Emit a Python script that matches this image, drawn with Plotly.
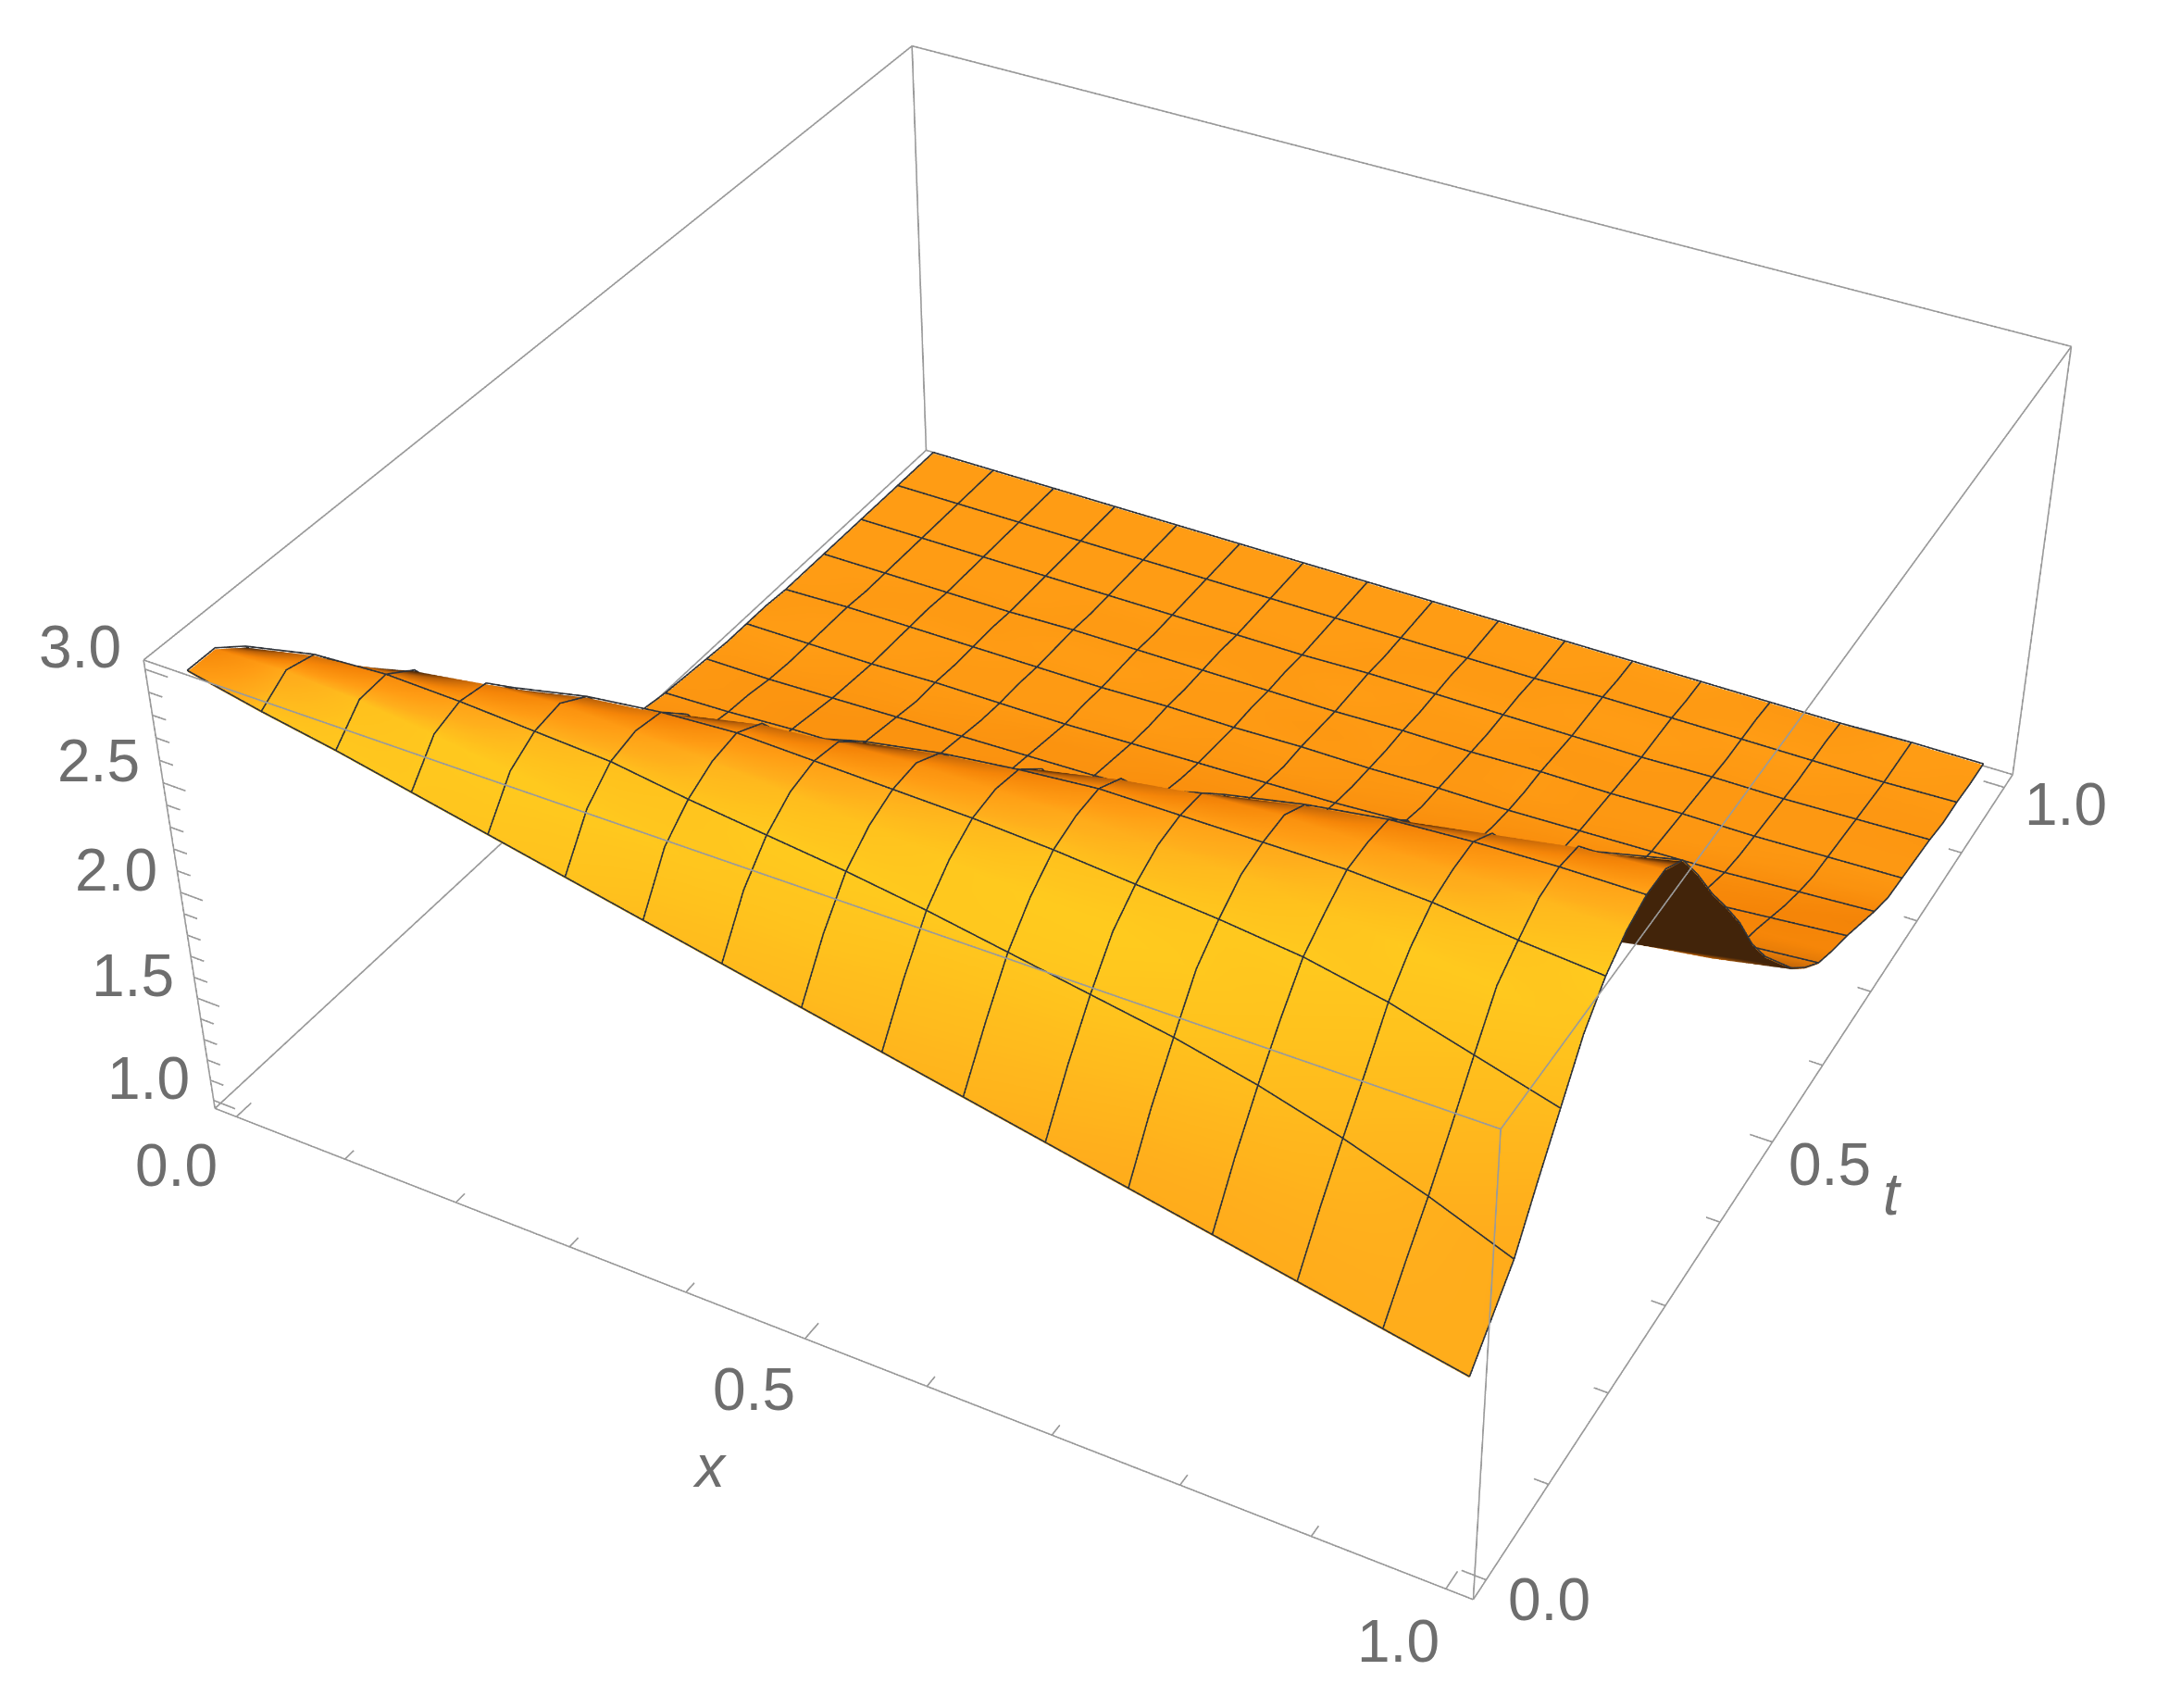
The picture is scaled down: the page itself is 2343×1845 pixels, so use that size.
import numpy as np
import plotly.graph_objects as go

x_values = [i/16 for i in range(17)]
t_values = [i/32 for i in range(33)]
tick_x = [i/10 for i in range(11)]
tick_z = [1+i/10 for i in range(21)]
z_labels = ['1.0','1.5','2.0','2.5','3.0']
z_label_values = [1,1.5,2,2.5,3]
# surface height u(x,t): one row per t value, one column per x value
Z_rows = [
[2.96,2.89,2.83,2.76,2.69,2.62,2.55,2.48,2.41,2.34,2.27,2.20,2.13,2.06,1.99,1.92,1.85],
[2.96,2.97,2.95,2.91,2.86,2.81,2.76,2.69,2.62,2.55,2.48,2.42,2.36,2.28,2.19,2.09,1.98],
[2.87,2.94,2.96,2.95,2.93,2.91,2.86,2.82,2.78,2.73,2.67,2.61,2.55,2.47,2.37,2.25,2.11],
[2.68,2.80,2.88,2.93,2.95,2.94,2.92,2.90,2.87,2.84,2.80,2.77,2.73,2.64,2.54,2.43,2.32],
[2.47,2.59,2.70,2.81,2.88,2.92,2.94,2.93,2.92,2.91,2.89,2.86,2.83,2.79,2.72,2.62,2.52],
[2.28,2.38,2.49,2.61,2.71,2.81,2.88,2.91,2.93,2.93,2.93,2.92,2.91,2.87,2.84,2.80,2.72],
[2.09,2.20,2.30,2.40,2.51,2.61,2.72,2.81,2.87,2.91,2.94,2.94,2.94,2.94,2.92,2.88,2.85],
[1.92,2.02,2.12,2.22,2.32,2.42,2.52,2.62,2.72,2.81,2.88,2.93,2.95,2.95,2.95,2.95,2.93],
[1.73,1.83,1.94,2.04,2.14,2.23,2.33,2.42,2.52,2.62,2.73,2.82,2.89,2.94,2.96,2.97,2.97],
[1.57,1.65,1.75,1.85,1.96,2.06,2.15,2.24,2.33,2.43,2.53,2.63,2.73,2.83,2.89,2.95,2.97],
[1.46,1.52,1.59,1.66,1.76,1.87,1.97,2.07,2.16,2.25,2.35,2.45,2.54,2.64,2.73,2.82,2.90],
[1.36,1.42,1.48,1.54,1.60,1.67,1.77,1.87,1.97,2.08,2.17,2.27,2.36,2.45,2.55,2.64,2.73],
[1.27,1.32,1.37,1.43,1.49,1.55,1.62,1.69,1.78,1.88,1.99,2.09,2.18,2.28,2.37,2.46,2.54],
[1.21,1.24,1.28,1.33,1.38,1.44,1.50,1.57,1.63,1.70,1.78,1.89,1.99,2.09,2.19,2.28,2.37],
[1.16,1.19,1.22,1.25,1.29,1.34,1.39,1.45,1.51,1.58,1.65,1.72,1.79,1.89,1.99,2.09,2.19],
[1.13,1.15,1.17,1.20,1.23,1.26,1.30,1.34,1.40,1.46,1.52,1.59,1.66,1.73,1.80,1.88,1.98],
[1.11,1.13,1.14,1.16,1.18,1.20,1.24,1.27,1.31,1.35,1.40,1.47,1.53,1.60,1.67,1.74,1.81],
[1.09,1.10,1.12,1.13,1.15,1.17,1.19,1.21,1.24,1.28,1.32,1.36,1.41,1.47,1.53,1.60,1.67],
[1.07,1.08,1.10,1.11,1.12,1.14,1.16,1.18,1.20,1.22,1.25,1.29,1.33,1.37,1.41,1.46,1.53],
[1.06,1.07,1.08,1.09,1.10,1.11,1.13,1.15,1.16,1.18,1.21,1.23,1.26,1.29,1.33,1.38,1.42],
[1.05,1.05,1.06,1.07,1.08,1.09,1.10,1.12,1.13,1.15,1.17,1.19,1.22,1.24,1.27,1.30,1.33],
[1.04,1.04,1.05,1.05,1.06,1.07,1.08,1.09,1.10,1.12,1.14,1.16,1.18,1.20,1.23,1.26,1.28],
[1.04,1.04,1.04,1.05,1.05,1.05,1.06,1.07,1.08,1.09,1.11,1.12,1.14,1.16,1.18,1.21,1.24],
[1.04,1.04,1.04,1.04,1.05,1.05,1.05,1.06,1.06,1.07,1.08,1.09,1.10,1.12,1.14,1.16,1.19],
[1.03,1.04,1.04,1.04,1.04,1.04,1.05,1.05,1.06,1.06,1.07,1.07,1.08,1.09,1.10,1.12,1.14],
[1.03,1.03,1.04,1.04,1.04,1.04,1.04,1.05,1.05,1.05,1.06,1.06,1.07,1.08,1.08,1.09,1.10],
[1.03,1.03,1.03,1.03,1.04,1.04,1.04,1.04,1.04,1.05,1.05,1.06,1.06,1.07,1.07,1.08,1.09],
[1.03,1.03,1.03,1.03,1.03,1.03,1.04,1.04,1.04,1.04,1.04,1.05,1.05,1.06,1.06,1.07,1.08],
[1.03,1.03,1.03,1.03,1.03,1.03,1.03,1.03,1.04,1.04,1.04,1.04,1.04,1.05,1.05,1.06,1.07],
[1.03,1.03,1.03,1.03,1.03,1.03,1.03,1.03,1.03,1.04,1.04,1.04,1.04,1.04,1.04,1.05,1.05],
[1.03,1.03,1.03,1.03,1.03,1.03,1.03,1.03,1.03,1.03,1.03,1.04,1.04,1.04,1.04,1.04,1.05],
[1.03,1.03,1.03,1.03,1.03,1.03,1.03,1.03,1.03,1.03,1.03,1.03,1.03,1.04,1.04,1.04,1.04],
[1.03,1.03,1.03,1.03,1.03,1.03,1.03,1.03,1.03,1.03,1.03,1.03,1.03,1.03,1.03,1.04,1.04],
]
Z = np.array(Z_rows)

box_x=[-0.02,1.02]; box_t=[-0.02,1.02]; box_z=[0.96,3.04]
zs=0.395/(box_z[1]-box_z[0])
zt,zx=np.gradient(Z,t_values,x_values)
n=np.stack([-zs*zx,-zs*zt,np.ones_like(Z)],-1); n/=np.linalg.norm(n,axis=-1,keepdims=True)
L=np.array([0.0,-0.6,0.8]); V=np.array([1.3,-2.4,2.0]); V=V/np.linalg.norm(V)
S=np.clip(n@L,0.02,1)
S=np.where(n[...,1]<-0.15,S-0.1*np.clip((2.6-Z)/0.8,0,1),S)
S[n@V<0]=0
scale=[[0,'#42240A'],[0.02,'#42240A'],[0.3,'#B85F08'],[0.6,'#F58508'],[0.8,'#FF9C14'],[0.9,'#FFAE1C'],[1,'#FFCB1E']]

fig=go.Figure()
fig.add_trace(go.Surface(x=x_values,y=t_values,z=Z,surfacecolor=S,cmin=0,cmax=1,colorscale=scale,showscale=False,hoverinfo='skip',
  lighting=dict(ambient=1,diffuse=0,specular=0,fresnel=0,roughness=1),
  contours=dict(x=dict(highlight=False),y=dict(highlight=False),z=dict(highlight=False))))
mx=[];my=[];mz=[]
lift=0.006
for j,xv in enumerate(x_values):
    mx+=[xv]*33+[None];my+=t_values+[None];mz+=list(Z[:,j]+lift)+[None]
for i in range(0,33,2):
    mx+=x_values+[None];my+=[t_values[i]]*17+[None];mz+=list(Z[i,:]+lift)+[None]
fig.add_trace(go.Scatter3d(x=mx,y=my,z=mz,mode='lines',line=dict(color='#30343a',width=3),hoverinfo='skip',showlegend=False))
ex=[];ey=[];ez=[]
a,b=box_x;c,d=box_t;e,f=box_z
for p,q in [((a,c,e),(b,c,e)),((b,c,e),(b,d,e)),((b,d,e),(a,d,e)),((a,d,e),(a,c,e)),((a,c,f),(b,c,f)),((b,c,f),(b,d,f)),((b,d,f),(a,d,f)),((a,d,f),(a,c,f)),((a,c,e),(a,c,f)),((b,c,e),(b,c,f)),((b,d,e),(b,d,f)),((a,d,e),(a,d,f))]:
    ex+=[p[0],q[0],None];ey+=[p[1],q[1],None];ez+=[p[2],q[2],None]
for v in tick_x:
    l=0.018 if v in (0,0.5,1) else 0.011
    ex+=[v,v,None];ey+=[c,c+l,None];ez+=[e,e,None]
    ex+=[b,b-l,None];ey+=[v,v,None];ez+=[e,e,None]
for v in tick_z:
    l=0.02 if abs(v*2-round(v*2))<1e-6 else 0.012
    ex+=[a,a+l,None];ey+=[c,c,None];ez+=[v,v,None]
fig.add_trace(go.Scatter3d(x=ex,y=ey,z=ez,mode='lines',line=dict(color='#9a9a9a',width=3),hoverinfo='skip',showlegend=False))
font=dict(family='Liberation Sans',size=64,color='#6e6e6e')
ann=[]
for v,yy in zip(z_label_values,z_labels):
    ann.append(dict(x=a,y=c,z=v,text=yy,showarrow=False,font=font,xshift=-70,yshift=24))
for v,yy,sx,sy in [(0,'0.0',-65,-53),(0.5,'0.5',-55,-55),(1,'1.0',-51,-57)]:
    ann.append(dict(x=v,y=c,z=e,text=yy,showarrow=False,font=font,xshift=sx,yshift=sy))
for v,yy,sx,sy in [(0,'0.0',68,-21),(0.5,'0.5',62,-24),(1,'1.0',66,-18)]:
    ann.append(dict(x=b,y=v,z=e,text=yy,showarrow=False,font=font,xshift=sx,yshift=sy))
ann.append(dict(x=0.5,y=c,z=e,text='<i>x</i>',showarrow=False,font=font,xshift=-103,yshift=-138))
ann.append(dict(x=b,y=0.5,z=e,text='<i>t</i>',showarrow=False,font=font,xshift=129,yshift=-56))
ax=dict(visible=True,showgrid=False,showbackground=False,zeroline=False,showline=False,showticklabels=False,title='',showspikes=False)
fig.update_layout(width=2500,height=4090,margin=dict(l=0,r=0,t=0,b=0),paper_bgcolor='white',
 scene=dict(domain=dict(x=[0,1],y=[0,1]),aspectmode='manual',aspectratio=dict(x=1.05/1.04,y=1.05/1.04,z=0.395*2.09/2.08),
  camera=dict(eye=dict(x=1.287,y=-2.376,z=1.96),center=dict(x=0,y=0,z=0),up=dict(x=0,y=0,z=1)),
  xaxis=dict(ax,range=[-0.025,1.025]),yaxis=dict(ax,range=[-0.025,1.025]),zaxis=dict(ax,range=[0.955,3.045]),annotations=ann))
ps="var gd=document.getElementById('{plot_id}');gd.style.position='absolute';gd.style.top='-1265px';gd.style.left='-1px';document.body.style.margin='0';document.body.style.overflow='hidden';document.documentElement.style.overflow='hidden';"
fig.write_html("out.html",post_script=ps)
